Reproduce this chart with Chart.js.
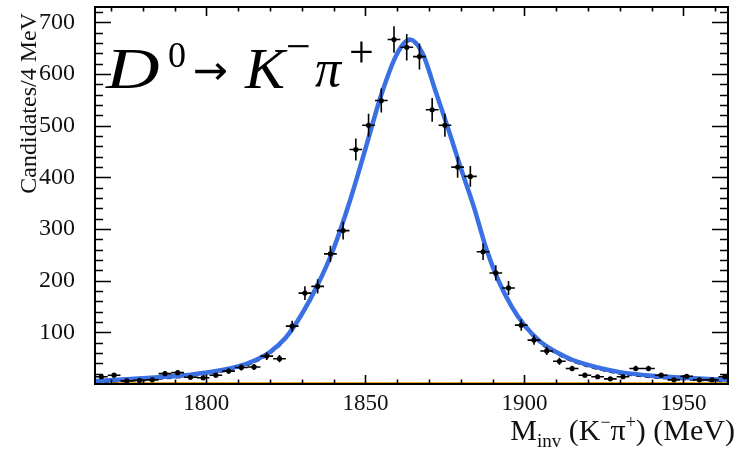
<!DOCTYPE html>
<html>
<head>
<meta charset="utf-8">
<script src="https://cdn.jsdelivr.net/npm/chart.js@4.4.1/dist/chart.umd.min.js"></script>
<style>
html, body { margin: 0; padding: 0; background: #fff; }
canvas { display: block; }
</style>
</head>
<body>
<canvas id="myChart" width="736" height="450"></canvas>
<script>
// histogram: 4 MeV bins
const binCenters = [1767, 1771, 1775, 1779, 1783, 1787, 1791, 1795, 1799, 1803,
                    1807, 1811, 1815, 1819, 1823, 1827, 1831, 1835, 1839, 1843,
                    1847, 1851, 1855, 1859, 1863, 1867, 1871, 1875, 1879, 1883,
                    1887, 1891, 1895, 1899, 1903, 1907, 1911, 1915, 1919, 1923,
                    1927, 1931, 1935, 1939, 1943, 1947, 1951, 1955, 1959, 1963];
const counts = [14, 17, 6, 7, 8, 20, 22, 13, 12, 17,
                25, 32, 33, 54, 49, 112, 176, 189, 252, 297,
                454, 501, 549, 667, 652, 634, 531, 501, 420, 402,
                256, 215, 186, 114, 85, 64, 44, 30, 17, 14,
                10, 14, 30, 30, 17, 8, 15, 8, 8, 14];
const countErrors = [3.7, 4.1, 2.4, 2.6, 2.8, 4.5, 4.7, 3.6, 3.5, 4.1,
                     5.0, 5.7, 5.7, 7.3, 7.0, 10.6, 13.3, 13.7, 15.9, 17.2,
                     21.3, 22.4, 23.4, 25.8, 25.5, 25.2, 23.0, 22.4, 20.5, 20.0,
                     16.0, 14.7, 13.6, 10.7, 9.2, 8.0, 6.6, 5.5, 4.1, 3.7,
                     3.2, 3.7, 5.5, 5.5, 4.1, 2.8, 3.9, 2.8, 2.8, 3.7];
const binHalfWidth = 2;

// fit curves
const fitMass = [1765, 1775, 1785, 1795, 1805, 1810, 1815, 1820, 1825, 1830,
                 1835, 1840, 1845, 1850, 1855, 1860, 1864, 1868, 1872, 1876,
                 1880, 1884, 1888, 1892, 1896, 1900, 1905, 1910, 1915, 1920,
                 1925, 1930, 1940, 1950, 1964];
const fitTotal = [6, 9, 13, 18, 27, 34, 45, 62, 90, 135,
                  192, 262, 352, 455, 560, 640, 667, 640, 568, 495,
                  418, 345, 262, 198, 150, 114, 82, 62, 47, 37,
                  29, 23, 16, 12, 8];
const fitSignal = [3, 6, 10, 15, 24, 31, 42, 59, 87, 132,
                   189, 259, 349, 452, 557, 637, 664, 637, 565, 492,
                   415, 342, 259, 195, 147, 111, 79, 59, 44, 34,
                   26, 20, 13, 9, 5];
const bkgMass = [1765, 1964];
const bkgLevel = [1, 1];

const xTickValues = [1800, 1850, 1900, 1950];
const yTickValues = [100, 200, 300, 400, 500, 600, 700];

const serif = '"Liberation Serif", "Times New Roman", serif';

function pts(xs, ys) {
    return xs.map((v, i) => ({x: v, y: ys[i]}));
}

// the label font is wider than Times, stretch a little
function wideText(ctx, text, x, y, sx) {
    ctx.save();
    ctx.translate(x, y);
    ctx.scale(sx, 1);
    ctx.fillText(text, 0, 0);
    ctx.restore();
}

const rootStyle = {
    id: 'rootStyle',
    afterDatasetsDraw(chart) {
        const {ctx, chartArea: a, scales: {x, y}} = chart;
        ctx.save();

        // error bars
        ctx.beginPath();
        ctx.rect(a.left, a.top, a.right - a.left, a.bottom - a.top);
        ctx.clip();
        ctx.strokeStyle = '#000';
        ctx.lineWidth = 1.6;
        ctx.beginPath();
        binCenters.forEach((m, i) => {
            const px = x.getPixelForValue(m);
            const py = y.getPixelForValue(counts[i]);
            ctx.moveTo(x.getPixelForValue(m - binHalfWidth), py);
            ctx.lineTo(x.getPixelForValue(m + binHalfWidth), py);
            ctx.moveTo(px, y.getPixelForValue(counts[i] - countErrors[i]));
            ctx.lineTo(px, y.getPixelForValue(counts[i] + countErrors[i]));
        });
        ctx.stroke();
        ctx.restore();

        ctx.save();
        // ticks inside the frame
        ctx.strokeStyle = '#000';
        ctx.lineWidth = 1.6;
        ctx.beginPath();
        for (let v = 20; v < y.max; v += 20) {
            const py = Math.round(y.getPixelForValue(v)) + 0.5;
            const len = v % 100 === 0 ? 16 : 8;
            ctx.moveTo(a.left, py); ctx.lineTo(a.left + len, py);
            ctx.moveTo(a.right, py); ctx.lineTo(a.right - len, py);
        }
        for (let v = 1770; v < x.max; v += 10) {
            const px = Math.round(x.getPixelForValue(v)) + 0.5;
            const len = v % 50 === 0 ? 9 : 4.5;
            ctx.moveTo(px, a.top); ctx.lineTo(px, a.top + len);
            ctx.moveTo(px, a.bottom); ctx.lineTo(px, a.bottom - len);
        }
        ctx.stroke();

        // frame
        ctx.lineWidth = 2;
        ctx.strokeRect(a.left, a.top, a.right - a.left, a.bottom - a.top);
        ctx.restore();
    },
    afterDraw(chart) {
        const {ctx} = chart;
        ctx.save();
        ctx.fillStyle = '#111';

        // y title
        ctx.save();
        ctx.translate(36, 13);
        ctx.rotate(-Math.PI / 2);
        ctx.font = '24px ' + serif;
        ctx.textAlign = 'right';
        ctx.textBaseline = 'alphabetic';
        ctx.fillText('Candidates/4 MeV', 0, 0);
        ctx.restore();

        // x title, right aligned to the canvas edge
        const parts = [
            {t: 'M', size: 30, dy: 0},
            {t: 'inv', size: 19, dy: 7},
            {t: ' (K', size: 30, dy: 0},
            {t: '\u2212', size: 18, dy: -12},
            {t: '\u03c0', size: 30, dy: 0},
            {t: '+', size: 18, dy: -12},
            {t: ') (MeV)', size: 30, dy: 0}
        ];
        let total = 0;
        parts.forEach(p => {
            ctx.font = p.size + 'px ' + serif;
            p.w = ctx.measureText(p.t).width;
            total += p.w;
        });
        let cx = 735 - total;
        ctx.textAlign = 'left';
        ctx.textBaseline = 'alphabetic';
        parts.forEach(p => {
            ctx.font = p.size + 'px ' + serif;
            ctx.fillText(p.t, cx, 440 + p.dy);
            cx += p.w;
        });

        // decay label
        ctx.fillStyle = '#000';
        ctx.font = 'italic 57px ' + serif;
        wideText(ctx, 'D', 106, 88, 1.3);
        ctx.font = '36px ' + serif;
        ctx.fillText('0', 168, 67);
        ctx.font = '40px "DejaVu Sans"';
        wideText(ctx, '\u2192', 193, 84, 1.05);
        ctx.font = 'italic 57px ' + serif;
        wideText(ctx, 'K', 245, 88, 1.05);
        ctx.font = '44px ' + serif;
        ctx.fillText('\u2212', 286, 61);
        ctx.font = 'italic 52px ' + serif;
        ctx.fillText('\u03c0', 315, 86);
        ctx.font = '44px ' + serif;
        ctx.fillText('+', 349, 67);
        ctx.restore();
    }
};

const ctx = document.getElementById('myChart');

new Chart(ctx, {
    type: 'scatter',
    data: {
        datasets: [{
            label: 'Data',
            data: pts(binCenters, counts),
            pointRadius: 2.6,
            pointBackgroundColor: '#000',
            pointBorderWidth: 0,
            order: 0
        },
        {
            label: 'Fit',
            type: 'line',
            data: pts(fitMass, fitTotal),
            borderColor: '#3b6fe4',
            borderWidth: 4.5,
            pointRadius: 0,
            cubicInterpolationMode: 'monotone',
            order: 1
        },
        {
            label: 'Signal',
            type: 'line',
            data: pts(fitMass, fitSignal),
            borderColor: '#000',
            borderWidth: 2,
            borderDash: [5, 4],
            pointRadius: 0,
            cubicInterpolationMode: 'monotone',
            order: 2
        },
        {
            label: 'Background',
            type: 'line',
            data: pts(bkgMass, bkgLevel),
            borderColor: '#e8a61c',
            borderWidth: 3,
            pointRadius: 0,
            order: 3
        }]
    },
    options: {
        responsive: false,
        animation: false,
        events: [],
        layout: {
            padding: {top: 7, right: 8, left: 0, bottom: 0}
        },
        plugins: {
            legend: {display: false},
            tooltip: {enabled: false}
        },
        scales: {
            x: {
                type: 'linear',
                min: 1765,
                max: 1964,
                grid: {display: false},
                border: {display: false},
                ticks: {
                    font: {family: serif, size: 23},
                    color: '#111',
                    padding: -2,
                    callback: (v) => String(v)
                },
                afterBuildTicks: (scale) => {
                    scale.ticks = xTickValues.map(v => ({value: v}));
                },
                afterFit: (scale) => {
                    scale.height = 66;
                    scale.paddingLeft = 0;
                    scale.paddingRight = 0;
                }
            },
            y: {
                min: 0,
                max: 730,
                grid: {display: false},
                border: {display: false},
                ticks: {
                    font: {family: serif, size: 24},
                    color: '#111',
                    padding: 12,
                    callback: (v) => String(v)
                },
                afterBuildTicks: (scale) => {
                    scale.ticks = yTickValues.map(v => ({value: v}));
                },
                afterFit: (scale) => {
                    scale.width = 95;
                    scale.paddingTop = 0;
                    scale.paddingBottom = 0;
                }
            }
        }
    },
    plugins: [rootStyle]
});
</script>
</body>
</html>
